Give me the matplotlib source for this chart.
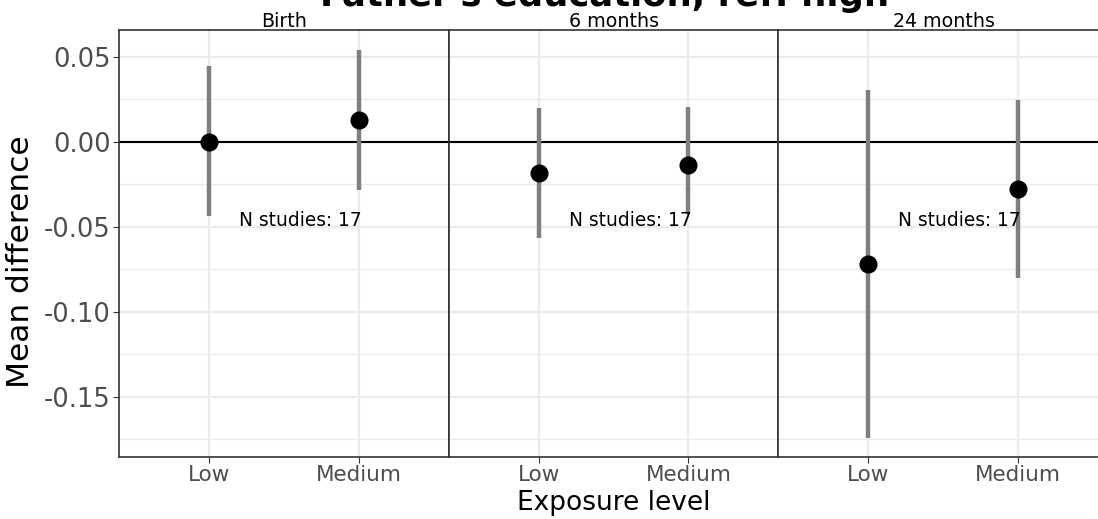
import matplotlib
matplotlib.use("Agg")
import matplotlib.pyplot as plt
from matplotlib.ticker import MultipleLocator

# data
timepoints = ["Birth", "6 months", "24 months"]
levels = ["Low", "Medium"]
means = [[0.000, 0.0128], [-0.0180, -0.0134], [-0.0719, -0.0278]]
lower = [[-0.0435, -0.0284], [-0.0563, -0.0425], [-0.1743, -0.0802]]
upper = [[0.0447, 0.0540], [0.0202, 0.0206], [0.0304, 0.0247]]
n_studies = [17, 17, 17]

fig = plt.figure(figsize=(10.98, 5.19), dpi=100)
# the last panel runs past the right edge of the picture, as in the reference
left, right, bottom, top = 119 / 1098, 1108 / 1098, 1 - 457 / 519, 1 - 30 / 519
gs = fig.add_gridspec(1, 3, left=left, right=right, bottom=bottom, top=top, wspace=0)
axes = [fig.add_subplot(gs[0, i]) for i in range(3)]

x = [1, 2]
for i, ax in enumerate(axes):
    ax.set_xlim(0.4, 2.6)
    ax.set_ylim(-0.1855, 0.0659)
    ax.yaxis.set_major_locator(MultipleLocator(0.05))
    ax.yaxis.set_minor_locator(MultipleLocator(0.025))
    ax.set_xticks(x)
    ax.set_xticklabels(levels, fontsize=15.5, color="#4d4d4d")
    ax.grid(True, which="major", color="#ebebeb", linewidth=1.6, zorder=0)
    ax.grid(True, which="minor", axis="y", color="#ebebeb", linewidth=0.9, zorder=0)
    ax.set_axisbelow(True)
    for sp in ax.spines.values():
        sp.set_color("#333333")
        sp.set_linewidth(1.2)
    ax.axhline(0, color="black", linewidth=1.5, zorder=1)
    for j in range(2):
        ax.vlines(x[j], lower[i][j], upper[i][j], color="#7f7f7f", linewidth=3.2, zorder=2)
    ax.plot(x, means[i], "o", color="black", markersize=12, zorder=3)
    ax.text(1.61, -0.0465, f"N studies: {n_studies[i]}", ha="center", va="center",
            fontsize=13.4, zorder=4)
    ax.tick_params(axis="both", which="major", length=4, color="#333333")
    ax.tick_params(axis="x", pad=2)
    ax.tick_params(axis="y", which="minor", length=0)
    if i == 0:
        ax.yaxis.set_major_formatter(plt.FuncFormatter(lambda v, p: f"{v:.2f}"))
        ax.tick_params(axis="y", labelsize=18.5, labelcolor="#4d4d4d", pad=2)
        ax.set_ylabel("Mean difference", fontsize=22.5)
        ax.yaxis.set_label_coords(-0.255, 0.457)
    else:
        ax.tick_params(axis="y", which="both", left=False, labelleft=False)

# strip labels centred on the visible panel widths (330 px each)
for i, ax in enumerate(axes):
    cx = (119 + 330 * i + 165) / 1098
    fig.text(cx, 1 - 27 / 519, timepoints[i], ha="center", va="baseline", fontsize=13.7)

axes[1].set_xlabel("Exposure level", fontsize=19, labelpad=3)
fig.text(0.551, 1 - 6 / 519, "Father's education, ref: high", ha="center", va="baseline",
         fontsize=25.5, fontweight="bold")

fig.savefig("out.png", dpi=100)
